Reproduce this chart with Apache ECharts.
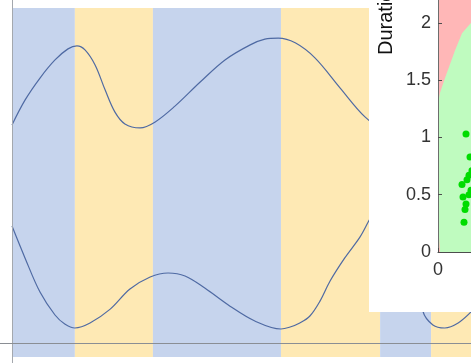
<!DOCTYPE html>
<html><head><meta charset="utf-8">
<script src="https://cdn.jsdelivr.net/npm/echarts@6/dist/echarts.min.js"></script>
<style>html,body{margin:0;padding:0;background:#fff}#c{width:471px;height:363px}</style>
</head><body><div id="c"></div>
<script>
// ---- main chart data ----
const bandEdges = [0, 13.7, 30.7, 58.6, 80.2, 91.3, 100];
const bandColors = ['#c6d4ed', '#fee9b4', '#c6d4ed', '#fee9b4', '#c6d4ed', '#fee9b4'];
const bandTop = 100;
const bandBottom = -4.18;
const upperX = [0, 2.83, 6.10, 9.37, 12.2, 14.16, 15.9, 18.1, 20.3, 22.4, 24.6, 27.9, 31.2, 35.5, 41.0, 46.4, 51.9, 55.1, 58.0, 61.7, 66.0, 71.5, 76.9, 82.4, 88.9, 95.4, 100];
const upperY = [65.1, 72.5, 79.1, 84.5, 87.8, 88.7, 87.5, 83.0, 75.5, 69.0, 65.4, 64.2, 66.0, 70.7, 77.9, 84.5, 89.0, 90.7, 91.0, 89.6, 85.1, 76.1, 67.5, 62.1, 60.6, 63.6, 68.1];
const lowerX = [0, 2.83, 6.10, 9.37, 11.5, 13.7, 17.0, 21.4, 25.7, 30.1, 34.0, 37.7, 42.0, 47.5, 52.9, 58.6, 60.6, 62.7, 64.9, 67.1, 69.3, 72.5, 75.8, 77.6, 80.2, 82.8, 85.2, 87.4, 89.5, 91.7, 94.3, 97.2, 100];
const lowerY = [34.9, 25.4, 15.2, 8.36, 5.67, 4.48, 5.97, 10.1, 16.1, 19.7, 20.9, 20.0, 16.4, 11.0, 6.57, 4.18, 4.78, 5.97, 8.06, 12.5, 18.5, 25.4, 31.6, 36.1, 42.7, 46.3, 41.2, 26.3, 9.55, 5.37, 4.48, 5.97, 9.25];

// ---- inset data ----
const insetYName = 'Duration (s)';
const insetXRange = [0, 3.3];
const insetYRange = [0, 2.2];
const greenX = [0.2, 0.1, 0, 0, 0.2, 0.7, 1.2, 1.7, 2.4, 3.2, 3.3, 3.3];
const greenY = [0, 0.13, 0.19, 1.30, 1.39, 1.52, 1.64, 1.76, 1.91, 1.99, 2.0, 0];
const pointsX = [2.8, 3.2, 3.4, 2.4, 2.9, 3.1, 2.5, 2.8, 2.7, 3.1, 2.6, 3.3];
const pointsY = [1.03, 0.83, 0.71, 0.59, 0.63, 0.67, 0.48, 0.42, 0.37, 0.50, 0.26, 0.54];

const zip = (a, b) => a.map((v, i) => [v, b[i]]);

const chart = echarts.init(document.getElementById('c'), null, {renderer: 'canvas'});
const FONT = '"Liberation Sans", Arial, sans-serif';

function polygonItem(xs, ys) {
  return function (params, api) {
    if (params.dataIndex !== 0) return null;
    const pts = xs.map((x, i) => api.coord([x, ys[i]]));
    return {type: 'polygon', shape: {points: pts}, style: {fill: api.visual('color')}};
  };
}

chart.setOption({
  animation: false,
  backgroundColor: '#ffffff',
  grid: [
    {left: 0, right: 0, top: 0, bottom: 0},
    {left: 438, right: 0, top: -1, height: 253}
  ],
  xAxis: [
    {gridIndex: 0, type: 'value', min: -2.614, max: 100, z: 3,
     axisLine: {show: true, onZero: true, lineStyle: {color: '#8a8e94', width: 1}},
     axisTick: {show: false}, axisLabel: {show: false}, splitLine: {show: false}},
    {gridIndex: 1, type: 'value', min: insetXRange[0], max: insetXRange[1], interval: 5, z: 11,
     axisLine: {show: true, onZero: false, lineStyle: {color: '#4d4d4d', width: 1}},
     axisTick: {show: true, inside: true, length: 4, lineStyle: {color: '#4d4d4d'}},
     axisLabel: {show: true, color: '#333', fontSize: 18, fontFamily: FONT, margin: 9, showMaxLabel: false},
     splitLine: {show: false}}
  ],
  yAxis: [
    {gridIndex: 0, type: 'value', min: -5.97, max: 102.39, z: 3,
     axisLine: {show: true, onZero: true, lineStyle: {color: '#a4a8ae', width: 1}},
     axisTick: {show: false}, axisLabel: {show: false}, splitLine: {show: false}},
    {gridIndex: 1, type: 'value', min: insetYRange[0], max: insetYRange[1], interval: 0.5, z: 11,
     axisLine: {show: true, onZero: false, lineStyle: {color: '#6d6d6d', width: 1}},
     axisTick: {show: true, inside: true, length: 4, lineStyle: {color: '#4d4d4d'}},
     axisLabel: {show: true, color: '#333', fontSize: 18, fontFamily: FONT, margin: 7, showMaxLabel: false},
     splitLine: {show: false}}
  ],
  graphic: [
    {type: 'rect', z: 5, shape: {x: 369, y: 0, width: 102, height: 312}, style: {fill: '#ffffff'}},
    {type: 'text', z: 12, x: 386, y: 55, rotation: Math.PI / 2,
     style: {text: insetYName, fill: '#111', font: '20px ' + FONT, textAlign: 'left', textVerticalAlign: 'middle'}}
  ],
  series: [
    {type: 'line', xAxisIndex: 0, yAxisIndex: 0, data: [], z: 1, silent: true,
     markArea: {silent: true,
       data: bandColors.map((c, i) => [
         {xAxis: bandEdges[i], yAxis: bandBottom, itemStyle: {color: c, opacity: 1}},
         {xAxis: bandEdges[i + 1], yAxis: bandTop}
       ])}},
    {type: 'line', xAxisIndex: 0, yAxisIndex: 0, z: 2, data: zip(upperX, upperY), smooth: 0.35,
     showSymbol: false, lineStyle: {color: '#4f6aa3', width: 1.2}},
    {type: 'line', xAxisIndex: 0, yAxisIndex: 0, z: 2, data: zip(lowerX, lowerY), smooth: 0.35,
     showSymbol: false, lineStyle: {color: '#4f6aa3', width: 1.2}},
    {type: 'custom', xAxisIndex: 1, yAxisIndex: 1, z: 8, silent: true,
     itemStyle: {color: '#ffb7b7'},
     data: [[insetXRange[0], insetYRange[0]]],
     renderItem: polygonItem([insetXRange[0], insetXRange[1], insetXRange[1], insetXRange[0]],
                             [insetYRange[0], insetYRange[0], insetYRange[1], insetYRange[1]])},
    {type: 'custom', xAxisIndex: 1, yAxisIndex: 1, z: 9, silent: true,
     itemStyle: {color: '#bffbbf'},
     data: [[greenX[0], greenY[0]]],
     renderItem: polygonItem(greenX, greenY)},
    {type: 'scatter', xAxisIndex: 1, yAxisIndex: 1, z: 10, data: zip(pointsX, pointsY),
     symbolSize: 7, clip: false, itemStyle: {color: '#00dc00', opacity: 1}}
  ]
});
</script>
</body></html>
